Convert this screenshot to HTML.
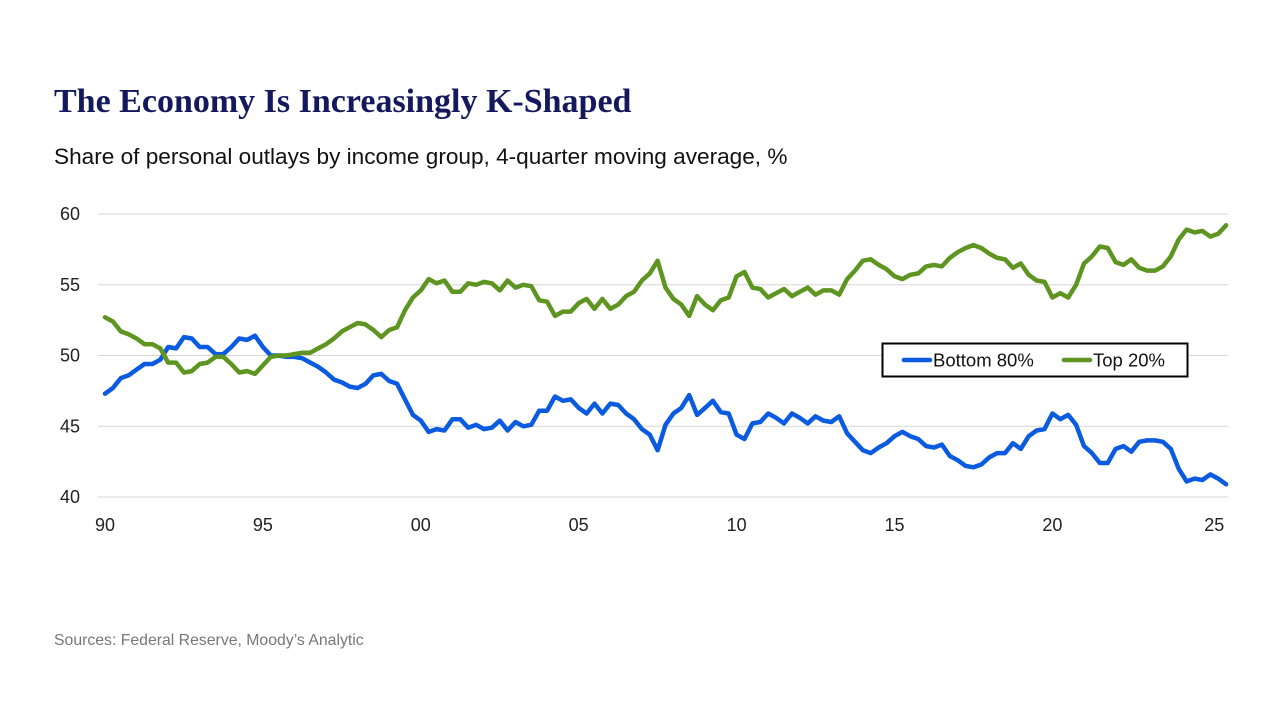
<!DOCTYPE html>
<html><head><meta charset="utf-8"><style>
html,body{margin:0;padding:0;background:#fff;}
body{width:1280px;height:720px;position:relative;overflow:hidden;font-family:"Liberation Sans",sans-serif;}
.title{position:absolute;left:54px;top:83px;font-family:"Liberation Serif",serif;font-weight:bold;font-size:34px;color:#13195c;letter-spacing:0px;}
.sub{position:absolute;left:54px;top:144px;font-size:22.6px;color:#111;}
.src{position:absolute;left:54px;top:632px;font-size:15.8px;color:#777;}
svg{position:absolute;left:0;top:0;}
</style></head><body>
<div class="title">The Economy Is Increasingly K-Shaped</div>
<div class="sub">Share of personal outlays by income group, 4-quarter moving average, %</div>
<div class="src">Sources: Federal Reserve, Moody’s Analytic</div>
<svg id="chart" width="1280" height="720"></svg>
<script>
const startYear = 1990;
const stepYear = 0.25;
const yTicks = [40,45,50,55,60];
const xTickYears = [1990,1995,2000,2005,2010,2015,2020,2025];
const xTickLabels = ["90","95","00","05","10","15","20","25"];
const seriesNames = ["Bottom 80%","Top 20%"];
const bottom80 = [47.3,47.7,48.4,48.6,49.0,49.4,49.4,49.7,50.6,50.5,51.3,51.2,50.6,50.6,50.1,50.1,50.6,51.2,51.1,51.4,50.6,50.0,50.0,49.9,49.9,49.8,49.5,49.2,48.8,48.3,48.1,47.8,47.7,48.0,48.6,48.7,48.2,48.0,46.9,45.8,45.4,44.6,44.8,44.7,45.5,45.5,44.9,45.1,44.8,44.9,45.4,44.7,45.3,45.0,45.1,46.1,46.1,47.1,46.8,46.9,46.3,45.9,46.6,45.9,46.6,46.5,45.9,45.5,44.8,44.4,43.3,45.1,45.9,46.3,47.2,45.8,46.3,46.8,46.0,45.9,44.4,44.1,45.2,45.3,45.9,45.6,45.2,45.9,45.6,45.2,45.7,45.4,45.3,45.7,44.5,43.9,43.3,43.1,43.5,43.8,44.3,44.6,44.3,44.1,43.6,43.5,43.7,42.9,42.6,42.2,42.1,42.3,42.8,43.1,43.1,43.8,43.4,44.3,44.7,44.8,45.9,45.5,45.8,45.1,43.6,43.1,42.4,42.4,43.4,43.6,43.2,43.9,44.0,44.0,43.9,43.4,42.0,41.1,41.3,41.2,41.6,41.3,40.9];
const top20 = [52.7,52.4,51.7,51.5,51.2,50.8,50.8,50.5,49.5,49.5,48.8,48.9,49.4,49.5,49.9,49.9,49.4,48.8,48.9,48.7,49.3,49.9,50.0,50.0,50.1,50.2,50.2,50.5,50.8,51.2,51.7,52.0,52.3,52.2,51.8,51.3,51.8,52.0,53.2,54.1,54.6,55.4,55.1,55.3,54.5,54.5,55.1,55.0,55.2,55.1,54.6,55.3,54.8,55.0,54.9,53.9,53.8,52.8,53.1,53.1,53.7,54.0,53.3,54.0,53.3,53.6,54.2,54.5,55.3,55.8,56.7,54.8,54.0,53.6,52.8,54.2,53.6,53.2,53.9,54.1,55.6,55.9,54.8,54.7,54.1,54.4,54.7,54.2,54.5,54.8,54.3,54.6,54.6,54.3,55.4,56.0,56.7,56.8,56.4,56.1,55.6,55.4,55.7,55.8,56.3,56.4,56.3,56.9,57.3,57.6,57.8,57.6,57.2,56.9,56.8,56.2,56.5,55.7,55.3,55.2,54.1,54.4,54.1,55.0,56.5,57.0,57.7,57.6,56.6,56.4,56.8,56.2,56.0,56.0,56.3,57.0,58.2,58.9,58.7,58.8,58.4,58.6,59.2];

const NS="http://www.w3.org/2000/svg";
const svg=document.getElementById('chart');
const X0=105, PXY=31.58, Y0=497, PXV=(497-214)/20;
const xs=yr=>X0+(yr-startYear)*PXY;
const ys=v=>Y0-(v-40)*PXV;
function mk(tag,attrs){const e=document.createElementNS(NS,tag);for(const k in attrs)e.setAttribute(k,attrs[k]);svg.appendChild(e);return e;}
yTicks.forEach(t=>{
  const l=mk('line',{x1:98,x2:1228,y1:ys(t),y2:ys(t),stroke:'#d6d6d6','stroke-width':1});
  
  
  const tx=mk('text',{x:80,y:ys(t)+6,'text-anchor':'end','font-size':18,fill:'#222','font-family':'Liberation Sans, sans-serif'});
  tx.textContent=t;
  
  
});
xTickYears.forEach((yr,i)=>{
  const tx=mk('text',{x:xs(yr)+(i==xTickYears.length-1?4:0),y:531,'text-anchor':'middle','font-size':18,fill:'#222','font-family':'Liberation Sans, sans-serif'});
  tx.textContent=xTickLabels[i];
  
  
});
function line(data,color,name){
  const pts=data.map((v,i)=>xs(startYear+i*stepYear).toFixed(1)+','+ys(v).toFixed(1)).join(' ');
  const p=mk('polyline',{points:pts,fill:'none',stroke:color,'stroke-width':4.5,'stroke-linejoin':'round','stroke-linecap':'round'});
  
  
}
line(bottom80,'#0a5be0','bottom-80-line');
line(top20,'#5e9420','top-20-line');
const lb=mk('rect',{x:882.5,y:343.5,width:305,height:33,fill:'#fff',stroke:'#000','stroke-width':2});


[[904,'#0a5be0',933,0],[1064,'#5e9420',1093,1]].forEach(([x,c,tx,i])=>{
  const l=mk('line',{x1:x,x2:x+26,y1:360,y2:360,stroke:c,'stroke-width':4.5,'stroke-linecap':'round'});
  
  
  const t=mk('text',{x:tx,y:366.5,'font-size':18.5,fill:'#111','font-family':'Liberation Sans, sans-serif'});
  t.textContent=seriesNames[i];
  
  
});
</script>
</body></html>
